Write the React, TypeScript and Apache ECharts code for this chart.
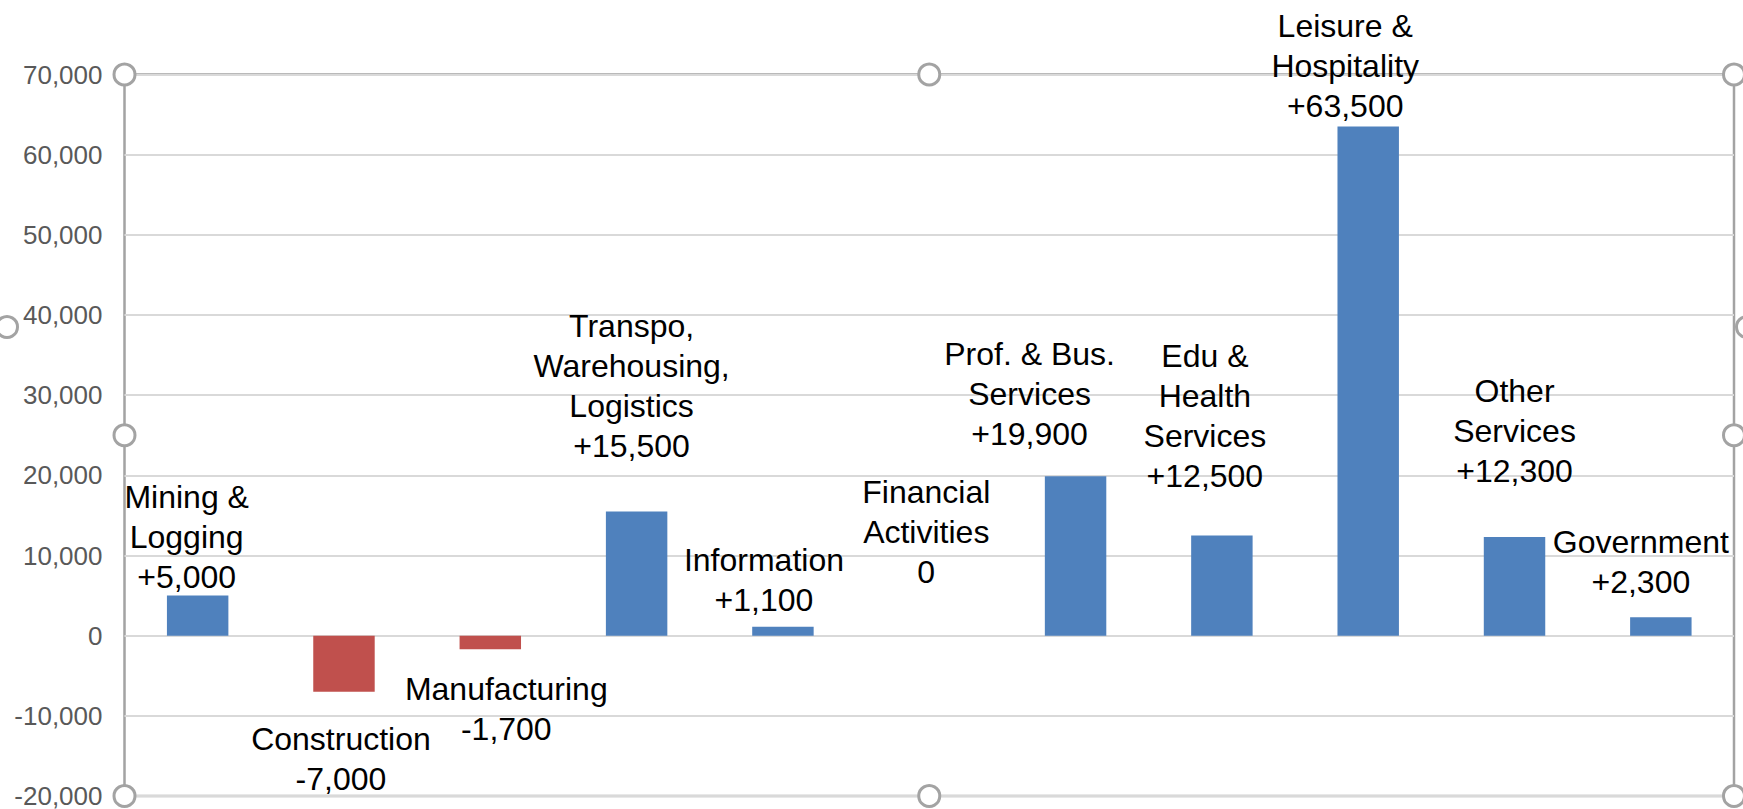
import React, { useEffect, useRef } from "react";
import * as echarts from "echarts";

const categories: string[] = [
  "Mining &\nLogging",
  "Construction",
  "Manufacturing",
  "Transpo,\nWarehousing,\nLogistics",
  "Information",
  "Financial\nActivities",
  "Prof. & Bus.\nServices",
  "Edu &\nHealth\nServices",
  "Leisure &\nHospitality",
  "Other\nServices",
  "Government",
];

const jobChange: number[] = [5000, -7000, -1700, 15500, 1100, 0, 19900, 12500, 63500, 12300, 2300];

const yTicks = { min: -20000, max: 70000, step: 10000 };

// manual label placement (Excel data labels were moved by hand)
const labelOffsets: [number, number][] = [
  [-11, 1],
  [-3, 27],
  [16, 20],
  [-5, -45],
  [-19, -7],
  [-3, -44],
  [-46, -22],
  [-17, -39],
  [-23, -1],
  [0, -46],
  [-20, -15],
];

const BLUE = "#4F81BD";
const RED = "#C0504D";

const fmt = (v: number) => Math.abs(v).toLocaleString("en-US");
const signed = (v: number) => (v > 0 ? "+" + fmt(v) : v < 0 ? "-" + fmt(v) : "0");

const PL = 124.5;
const PR = 1734;
const PT = 74.5;
const PB = 796;

function handle(cx: number, cy: number) {
  return {
    type: "circle",
    shape: { cx, cy, r: 10.5 },
    style: { fill: "#ffffff", stroke: "#a3a3a3", lineWidth: 3 },
    z: 100,
  };
}

export default function App() {
  const ref = useRef<HTMLDivElement>(null);
  useEffect(() => {
    if (!ref.current) return;
    const chart = echarts.init(ref.current, undefined, { renderer: "svg" });
    const midX = (PL + PR) / 2;
    const midY = (PT + PB) / 2;
    chart.setOption({
      animation: false,
      backgroundColor: "#ffffff",
      grid: {
        left: PL,
        right: 1743 - PR,
        top: PT,
        bottom: 809 - PB,
        show: true,
        borderColor: "#a3a3a3",
        borderWidth: 2.5,
        backgroundColor: "transparent",
      },
      xAxis: {
        type: "category",
        data: categories,
        axisLabel: { show: false },
        axisTick: { show: false },
        axisLine: { show: false },
        splitLine: { show: false },
      },
      yAxis: {
        type: "value",
        min: yTicks.min,
        max: yTicks.max,
        interval: yTicks.step,
        axisLine: { show: false },
        axisTick: { show: false },
        splitLine: { lineStyle: { color: "#d9d9d9", width: 2 } },
        axisLabel: {
          formatter: (v: number) => (v < 0 ? "-" : "") + fmt(v),
          color: "#595959",
          fontSize: 26,
          fontFamily: "Liberation Sans, Arial, sans-serif",
          margin: 22,
        },
      },
      series: [
        {
          type: "bar",
          barCategoryGap: "58%",
          data: jobChange.map((v, i) => ({
            value: v,
            itemStyle: { color: v < 0 ? RED : BLUE },
            label: {
              show: true,
              position: v < 0 ? "bottom" : "top",
              distance: 0,
              offset: labelOffsets[i],
            },
          })),
          label: {
            show: true,
            formatter: (p: any) => p.name + "\n" + signed(p.value),
            color: "#000000",
            fontSize: 32,
            lineHeight: 40,
            align: "center",
            fontFamily: "Liberation Sans, Arial, sans-serif",
          },
        },
      ],
      graphic: [
        handle(PL, PT),
        handle(midX, PT),
        handle(PR, PT),
        handle(PL, midY),
        handle(PR, midY),
        handle(PL, PB),
        handle(midX, PB),
        handle(PR, PB),
        handle(7, 327),
        handle(1747, 327),
      ],
    });
    return () => chart.dispose();
  }, []);
  return (
    <div
      ref={ref}
      style={{ position: "absolute", left: 0, top: 0, width: 1743, height: 809 }}
    />
  );
}
